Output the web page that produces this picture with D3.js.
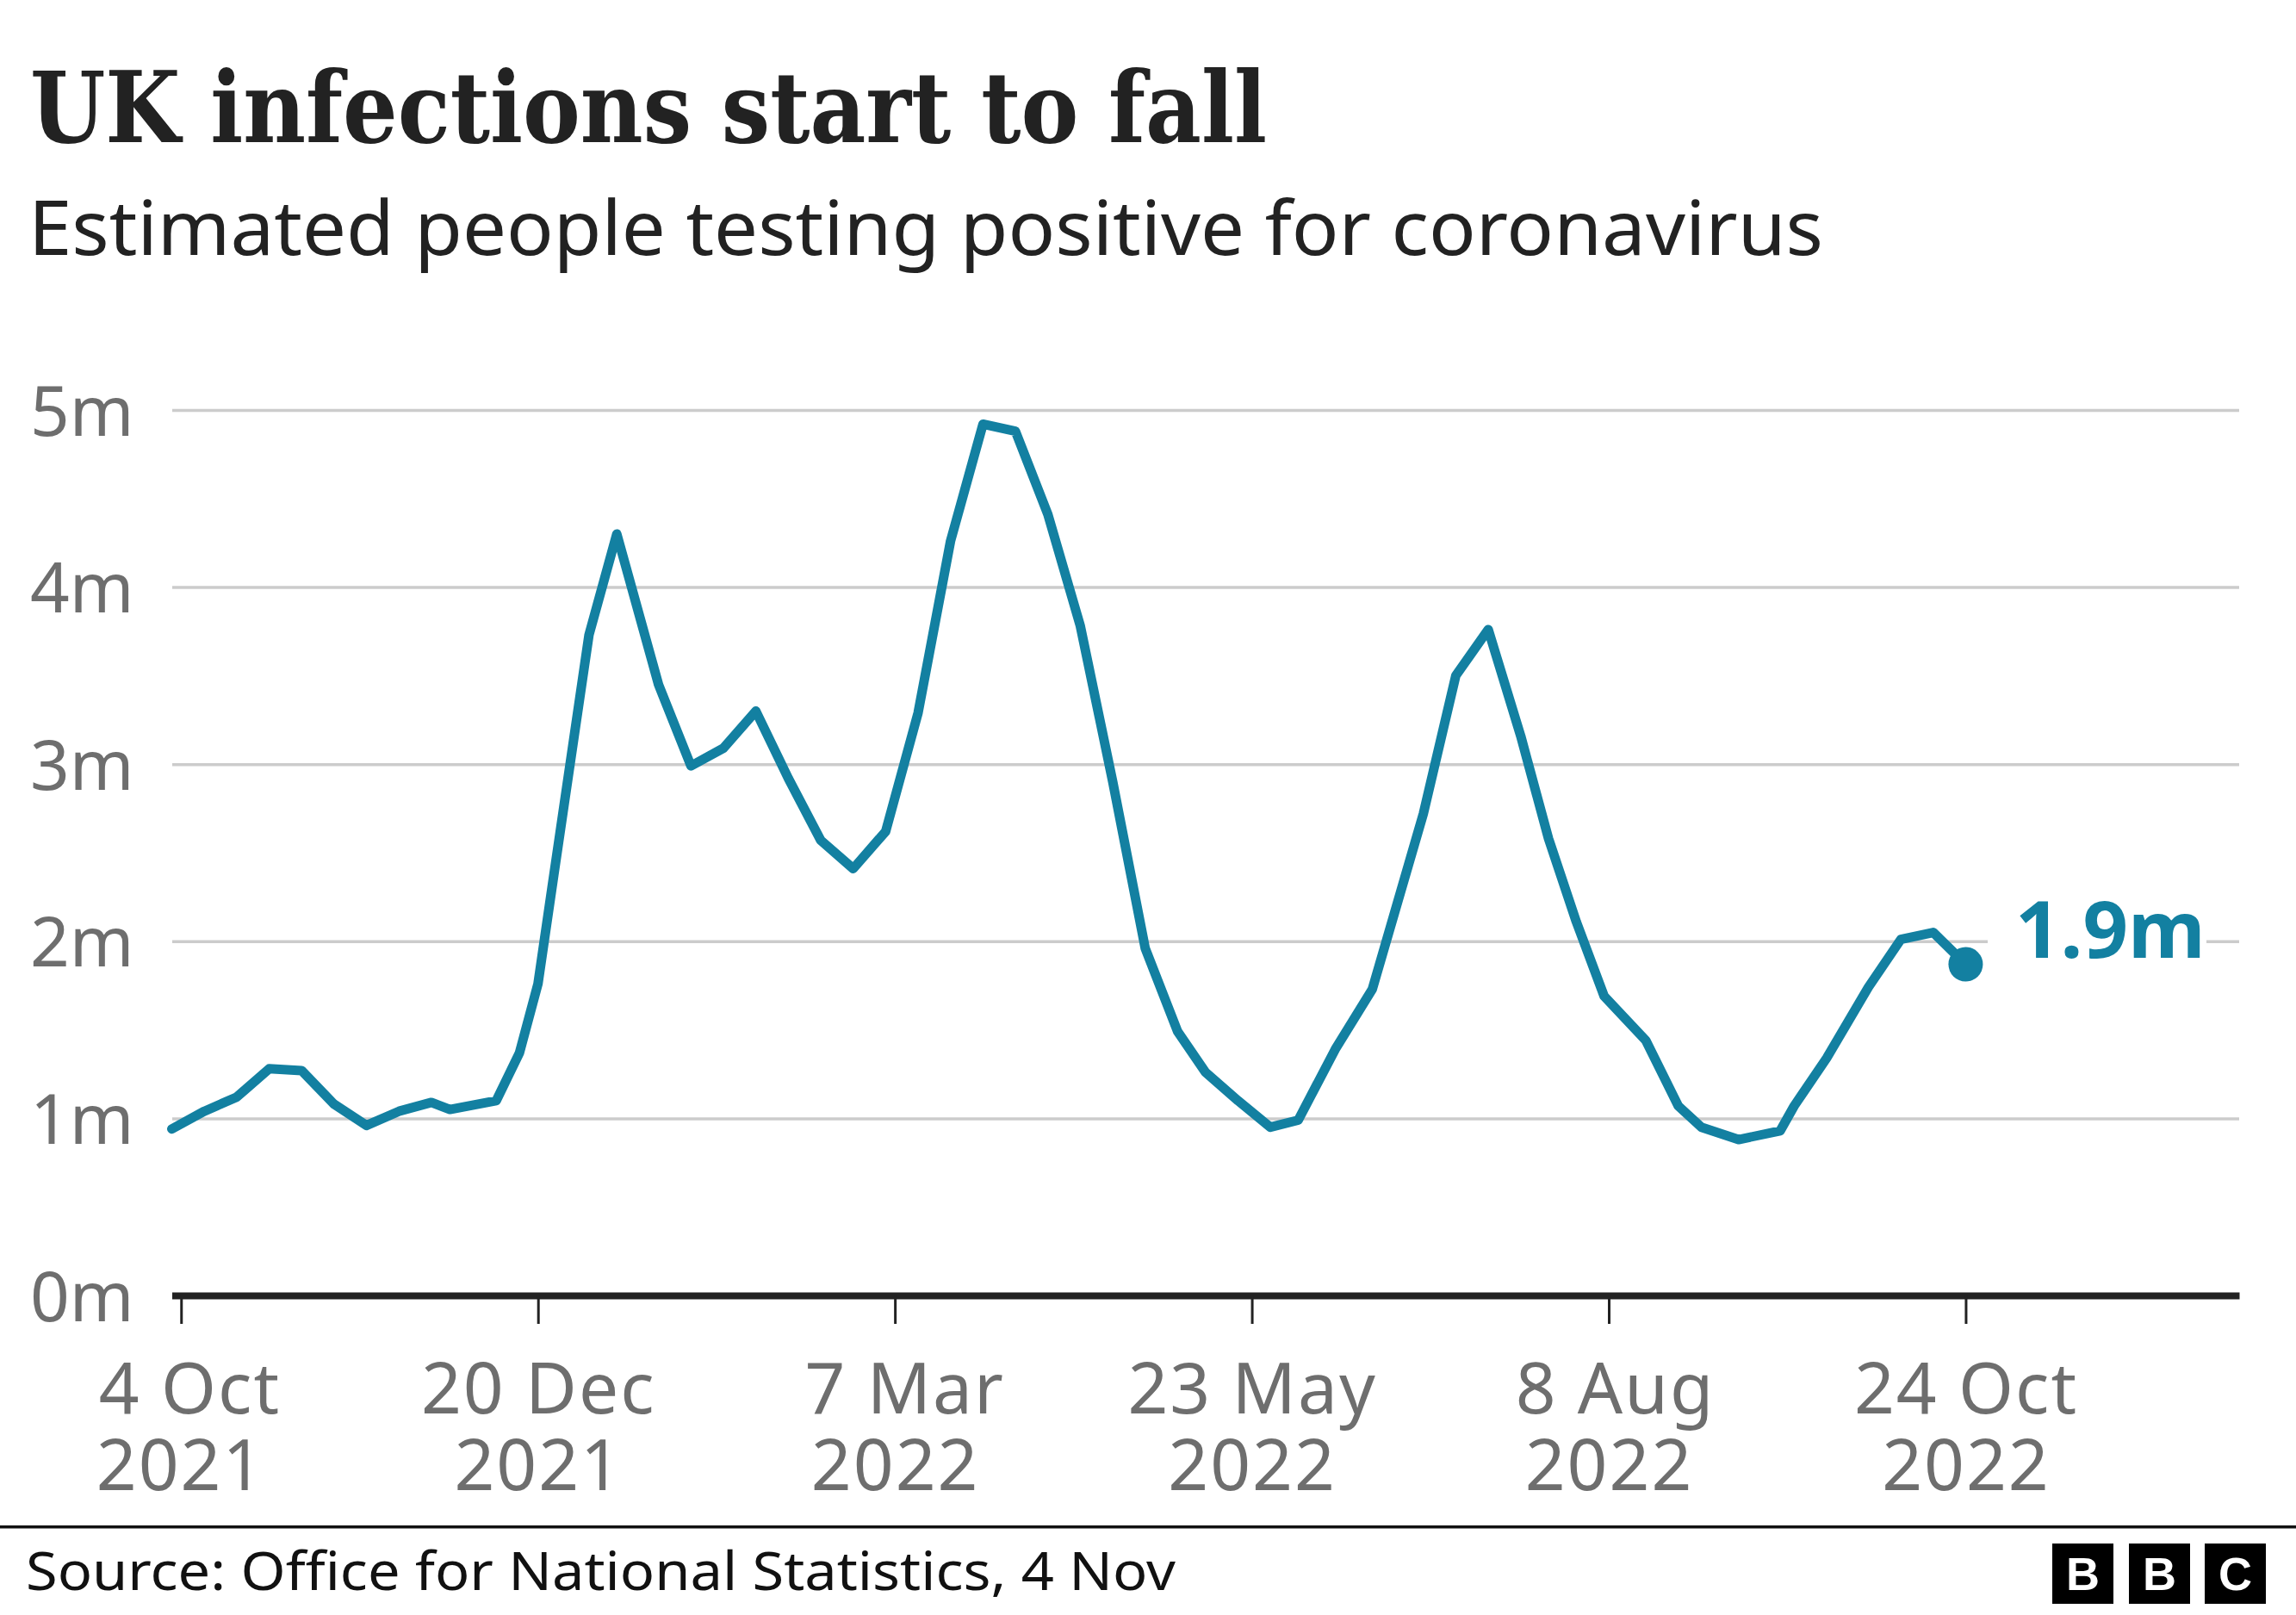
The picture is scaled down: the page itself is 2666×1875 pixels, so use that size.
<!DOCTYPE html>
<html lang="en">
  <head>
    <meta charset="utf-8">
    <title>UK infections start to fall</title>
    <script src="https://d3js.org/d3.v7.min.js"></script>
    <style>
      body { margin: 0; background: #fff; }
      svg { display: block; }
    </style>
  </head>
  <body>
    <script>
      const weeks = [
        "2021-10-02","2021-10-09","2021-10-16","2021-10-23","2021-10-30","2021-11-06","2021-11-13",
        "2021-11-20","2021-11-27","2021-12-01","2021-12-11","2021-12-16","2021-12-20","2021-12-23",
        "2021-12-31","2022-01-06","2022-01-15","2022-01-22","2022-01-29","2022-02-05","2022-02-12",
        "2022-02-19","2022-02-26","2022-03-05","2022-03-12","2022-03-19","2022-03-26","2022-04-02",
        "2022-04-09","2022-04-16","2022-04-23","2022-04-30","2022-05-07","2022-05-13","2022-05-20",
        "2022-05-27","2022-06-02","2022-06-10","2022-06-18","2022-06-24","2022-06-29","2022-07-06",
        "2022-07-13","2022-07-20","2022-07-26","2022-08-01","2022-08-07","2022-08-16","2022-08-23",
        "2022-08-28","2022-09-05","2022-09-14","2022-09-17","2022-09-24","2022-10-03","2022-10-10",
        "2022-10-17","2022-10-24"
      ]
      const infections = [
        0.94,1.04,1.12,1.28,1.27,1.08,0.96,
        1.04,1.09,1.05,1.10,1.37,1.76,2.30,
        3.73,4.30,3.45,2.99,3.09,3.30,2.92,
        2.57,2.41,2.62,3.29,4.26,4.92,4.88,
        4.41,3.78,2.90,1.96,1.49,1.26,1.10,
        0.95,0.99,1.39,1.73,2.27,2.72,3.50,
        3.76,3.16,2.58,2.11,1.69,1.44,1.07,
        0.95,0.88,0.93,1.07,1.34,1.74,2.01,
        2.05,1.87
      ]
      const yTicks = [0, 1, 2, 3, 4, 5]
      const xTicks = ["2021-10-04","2021-12-20","2022-03-07","2022-05-23","2022-08-08","2022-10-24"]
      const xLabels = [["4 Oct","2021"],["20 Dec","2021"],["7 Mar","2022"],["23 May","2022"],["8 Aug","2022"],["24 Oct","2022"]]

      const w = 2666
      const h = 1875
      const teal = "#1380a1"
      const grey = "#6e6e6e"
      const sans = "'Noto Sans', sans-serif"
      const parseDate = d3.utcParse("%Y-%m-%d")

      const svg = d3.select("body").append("svg")
        .attr("width", w)
        .attr("height", h)

      const x = d3.scaleUtc()
        .domain([parseDate("2021-10-02"), parseDate("2022-12-22")])
        .range([199.5, 2600])
      const y = d3.scaleLinear()
        .domain([0, 5])
        .range([1504, 476])

      // titles
      svg.append("text")
        .text("UK infections start to fall")
        .attr("x", 35).attr("y", 165)
        .attr("font-family", "'DejaVu Serif Condensed', 'DejaVu Serif', serif")
        .attr("font-weight", "bold")
        .attr("font-size", 114)
        .attr("textLength", 1436)
        .attr("lengthAdjust", "spacingAndGlyphs")
        .attr("fill", "#222")
      svg.append("text")
        .text("Estimated people testing positive for coronavirus")
        .attr("x", 33).attr("y", 296)
        .attr("font-family", sans)
        .attr("font-size", 87)
        .attr("textLength", 2084)
        .attr("lengthAdjust", "spacingAndGlyphs")
        .attr("fill", "#222")

      // gridlines and y labels
      const yAxis = svg.append("g")
        .attr("transform", "translate(200,0)")
        .call(d3.axisLeft(y).tickValues(yTicks).tickFormat((d) => d + "m").tickSize(-2400))
      yAxis.select(".domain").remove()
      yAxis.selectAll(".tick line")
        .attr("stroke", "#cccccc")
        .attr("stroke-width", 3.5)
        .attr("display", (d) => d === 0 ? "none" : null)
      yAxis.selectAll(".tick text")
        .attr("x", -165)
        .attr("dy", 0)
        .attr("y", 29)
        .attr("text-anchor", "start")
        .attr("font-family", sans)
        .attr("font-size", 80)
        .attr("fill", grey)

      // x axis
      const xAxis = svg.append("g")
        .attr("transform", "translate(0,1504)")
        .call(d3.axisBottom(x).tickValues(xTicks.map(parseDate)).tickSizeInner(33).tickSizeOuter(0).tickFormat(""))
      xAxis.select(".domain")
        .attr("stroke", "#222")
        .attr("stroke-width", 8)
      xAxis.selectAll(".tick line")
        .attr("stroke", "#222")
        .attr("stroke-width", 3)
      xAxis.selectAll(".tick text").remove()
      // first line of these two labels sits a little right of the tick
      const firstLineShift = { "7 Mar": 11, "8 Aug": 7 }
      xAxis.selectAll(".tick").each(function(d, i) {
        const label = d3.select(this).append("text")
          .attr("font-family", sans)
          .attr("font-size", 82)
          .attr("letter-spacing", 2)
          .attr("fill", grey)
          .attr("stroke", "none")
          .attr("text-anchor", i === 0 ? "start" : "middle")
        xLabels[i].forEach((line, j) => {
          label.append("tspan")
            .text(line)
            .attr("x", i === 0 ? (j === 0 ? -96 : -99) : (firstLineShift[line] || 0))
            .attr("y", j === 0 ? 137 : 226)
        })
      })

      // series
      const series = weeks.map((d, i) => [parseDate(d), infections[i]])
      svg.append("path")
        .datum(series)
        .attr("d", d3.line().x((d) => x(d[0])).y((d) => y(d[1])))
        .attr("fill", "none")
        .attr("stroke", teal)
        .attr("stroke-width", 11)
        .attr("stroke-linejoin", "round")
        .attr("stroke-linecap", "round")

      const last = series[series.length - 1]
      svg.append("circle")
        .attr("cx", x(last[0]))
        .attr("cy", y(last[1]))
        .attr("r", 20)
        .attr("fill", teal)

      // end label, knocks a gap out of the 2m gridline
      svg.append("rect")
        .attr("x", 2308).attr("y", y(2) - 10)
        .attr("width", 254).attr("height", 20)
        .attr("fill", "#fff")
      svg.append("text")
        .text("1.9m")
        .attr("x", 2340).attr("y", 1112)
        .attr("font-family", sans)
        .attr("font-weight", "bold")
        .attr("font-size", 92)
        .attr("fill", teal)

      // footer
      svg.append("rect")
        .attr("x", 0).attr("y", 1771)
        .attr("width", w).attr("height", 3.5)
        .attr("fill", "#111")
      svg.append("text")
        .text("Source: Office for National Statistics, 4 Nov")
        .attr("x", 30).attr("y", 1846)
        .attr("font-family", sans)
        .attr("font-size", 62)
        .attr("textLength", 1335)
        .attr("lengthAdjust", "spacingAndGlyphs")
        .attr("fill", "#111")

      const logo = ["B", "B", "C"]
      const logoX = [2383, 2472, 2560]
      logo.forEach((c, i) => {
        svg.append("rect")
          .attr("x", logoX[i]).attr("y", 1792)
          .attr("width", 71).attr("height", 70)
          .attr("fill", "#000")
        svg.append("text")
          .text(c)
          .attr("x", logoX[i] + 35.5).attr("y", 1846)
          .attr("text-anchor", "middle")
          .attr("font-family", "'Liberation Sans', sans-serif")
          .attr("font-weight", "bold")
          .attr("font-size", 54)
          .attr("fill", "#fff")
      })
    </script>
  </body>
</html>
